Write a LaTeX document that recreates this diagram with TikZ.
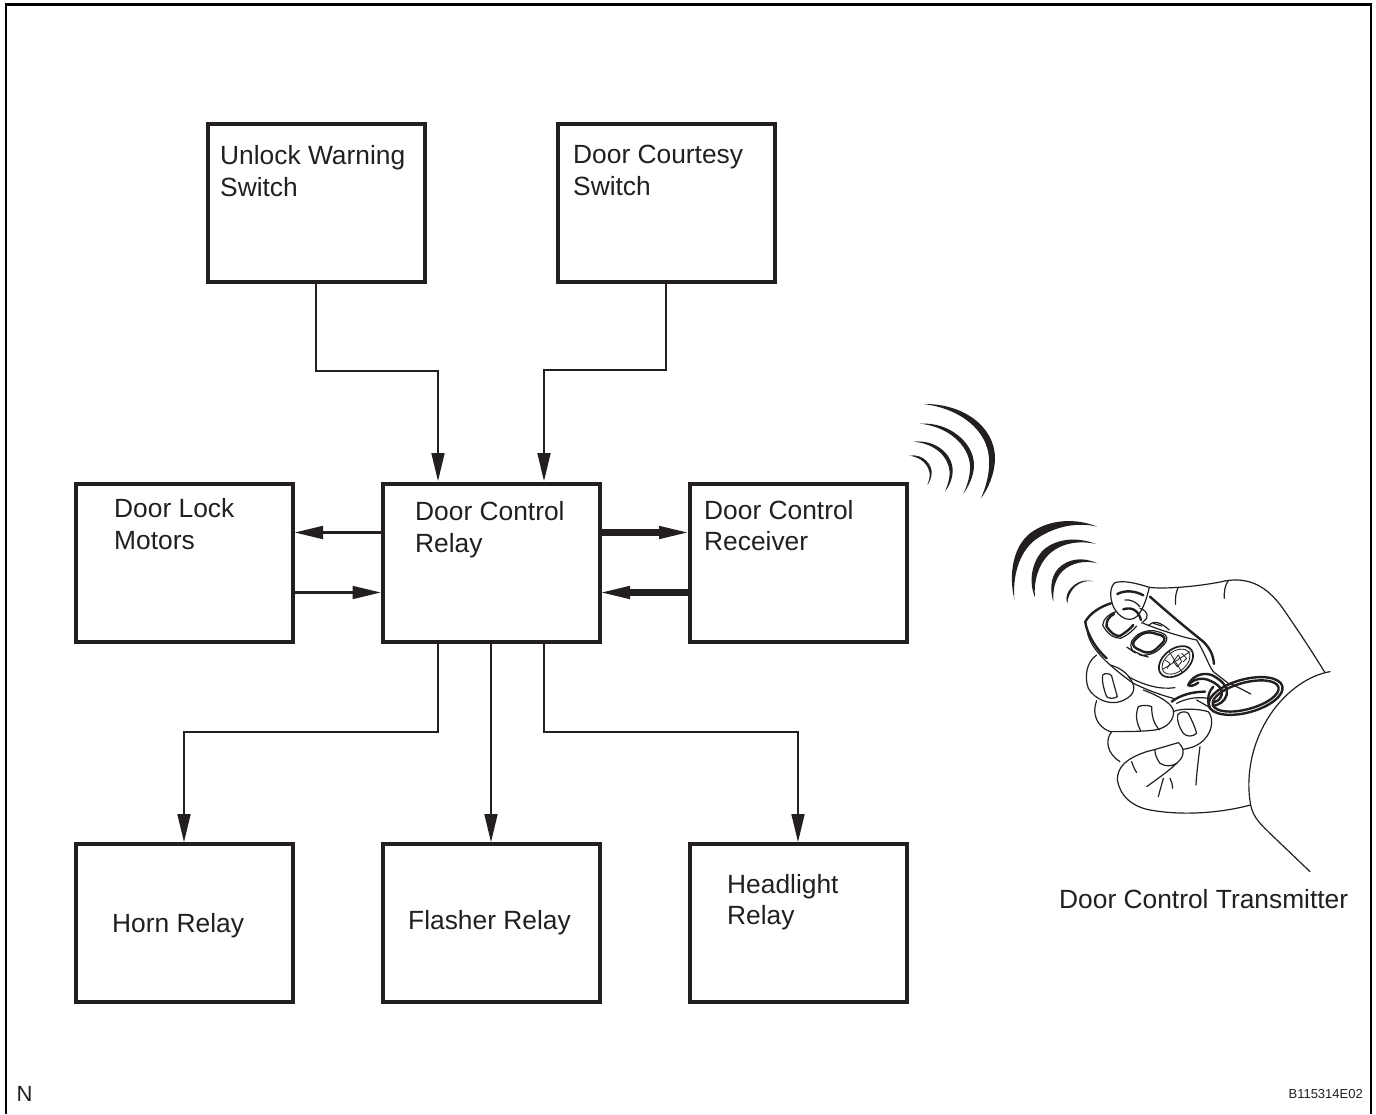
\documentclass[tikz,border=0pt]{standalone}
\usepackage{fontspec}
\setmainfont{Liberation Sans}
\usetikzlibrary{arrows.meta}
\definecolor{ink}{HTML}{231F20}
\tikzset{
 box/.style={draw=ink,line width=4pt,minimum width=217pt,minimum height=157.5pt,inner sep=0pt,outer sep=0pt,anchor=north west},
 lab/.style={anchor=north west,inner sep=0pt,align=left,text=ink,font=\fontsize{26.35}{31.5}\selectfont},
 labw/.style={anchor=north west,inner sep=0pt,align=left,text=ink,font=\fontsize{26.35}{32}\selectfont},
 tiphead/.style={-{Triangle[length=28pt,width=13.5pt,line width=0pt,fill=ink]}},
 conn/.style={draw=ink,line width=1.5pt,tiphead},
 connb/.style={draw=ink,line width=2.2pt,tiphead},
 heavy/.style={draw=ink,line width=7.4pt,tiphead},
 hand/.style={draw=ink,line width=1.2pt,fill=none,line cap=round,line join=round},
 handb/.style={draw=ink,line width=2.4pt,fill=none,line cap=round,line join=round},
 handm/.style={draw=ink,line width=1.7pt,fill=none,line cap=round,line join=round},
 handt/.style={draw=ink,line width=0.8pt,fill=none,line cap=round,line join=round},
 wave/.style={fill=ink,draw=none}
}
\begin{document}
\begin{tikzpicture}[x=1pt,y=-1pt]
\useasboundingbox (0,0) rectangle (1376,1114);
\fill[white] (0,0) rectangle (1376,1114);
\draw[black,line width=2.4pt] (6,1114) -- (6,4.5) -- (1371,4.5) -- (1371,1114);
% boxes
\node[box] (unlock) at (207.5,124) {};
\node[box] (courtesy) at (557.5,124) {};
\node[box] (motors) at (75.5,484) {};
\node[box] (relay) at (382.5,484) {};
\node[box] (receiver) at (689.5,484) {};
\node[box] (horn) at (75.5,844) {};
\node[box] (flasher) at (382.5,844) {};
\node[box] (headlight) at (689.5,844) {};
% labels
\node[lab] (t1) at (220,145.5) {Unlock Warning\\Switch};
\node[labw] (t2) at (573,145) {Door Courtesy\\Switch};
\node[labw] (t3) at (114,498) {Door Lock\\Motors};
\node[labw] (t4) at (415,501) {Door Control\\Relay};
\node[lab] (t5) at (704,500) {Door Control\\Receiver};
\node[lab] (t6) at (112,913) {Horn Relay};
\node[lab] (t7) at (408,910) {Flasher Relay};
\node[lab] (t8) at (727,874) {Headlight\\Relay};
\node[lab] (t9) at (1059,889) {Door Control Transmitter};
\node[anchor=base west,inner sep=0pt,text=ink,font=\fontsize{22}{24}\selectfont] (n) at (16.5,1101) {N};
\node[anchor=base east,inner sep=0pt,text=ink,font=\fontsize{13}{15}\selectfont] (code) at (1363,1098) {B115314E02};
% connectors
\coordinate (a1) at (438,481);
\coordinate (a2) at (544,481);
\draw[conn] (unlock.south -| 316,0) -- (316,371) -- (438,371) -- (a1);
\draw[conn] (courtesy.south -| 666,0) -- (666,370) -- (544,370) -- (a2);
\coordinate (m1) at (295,532.5);
\coordinate (r1) at (380.5,592.5);
\coordinate (h1) at (687,532.5);
\coordinate (h2) at (602,592.5);
\draw[connb] (relay.west |- m1) -- (m1);
\draw[connb] (motors.east |- r1) -- (r1);
\draw[heavy] (relay.east |- h1) -- (h1);
\draw[heavy] (receiver.west |- h2) -- (h2);
\coordinate (b1) at (184,842);
\coordinate (b2) at (491,842);
\coordinate (b3) at (798,842);
\draw[connb] (relay.south -| 438,0) -- (438,732) -- (184,732) -- (b1);
\draw[connb] (relay.south -| b2) -- (b2);
\draw[connb] (relay.south -| 544,0) -- (544,732) -- (798,732) -- (b3);
% drawing, in zoom coordinates
\begin{scope}[shift={(880,390)},x=0.3333pt,y=-0.3333pt]
% waves near receiver
\fill[wave] (130,42) .. controls (250,40) and (345,110) .. (345,205) .. controls (345,250) and (325,295) .. (303,325) .. controls (320,285) and (330,245) .. (327,205) .. controls (322,120) and (240,55) .. (130,42) -- cycle;
\fill[wave] (120,101) .. controls (210,95) and (282,160) .. (282,225) .. controls (282,258) and (265,290) .. (250,312) .. controls (262,285) and (272,255) .. (270,225) .. controls (265,165) and (205,110) .. (120,101) -- cycle;
\fill[wave] (100,155) .. controls (170,148) and (220,195) .. (218,245) .. controls (217,270) and (205,292) .. (195,305) .. controls (203,285) and (210,265) .. (209,245) .. controls (205,200) and (165,160) .. (100,155) -- cycle;
\fill[wave] (88,197) .. controls (130,190) and (157,225) .. (155,250) .. controls (154,265) and (148,278) .. (142,285) .. controls (147,272) and (150,260) .. (149,250) .. controls (145,225) and (125,202) .. (88,197) -- cycle;
% waves near transmitter
\fill[wave] (652,410) .. controls (590,385) and (510,385) .. (450,430) .. controls (400,470) and (385,550) .. (403,628) .. controls (398,560) and (415,490) .. (465,450) .. controls (520,410) and (590,395) .. (652,410) -- cycle;
\fill[wave] (648,462) .. controls (590,440) and (530,445) .. (490,480) .. controls (455,515) and (445,575) .. (465,622) .. controls (460,575) and (475,525) .. (505,495) .. controls (540,460) and (595,450) .. (648,462) -- cycle;
\fill[wave] (652,520) .. controls (610,500) and (565,505) .. (535,535) .. controls (510,562) and (510,605) .. (520,634) .. controls (518,600) and (525,565) .. (548,543) .. controls (575,518) and (615,510) .. (652,520) -- cycle;
\fill[wave] (640,574) .. controls (610,565) and (580,580) .. (565,605) .. controls (558,618) and (558,632) .. (562,640) .. controls (563,625) and (570,605) .. (585,590) .. controls (600,577) and (620,570) .. (640,574) -- cycle;
% hand outline
\draw[hand] (808,592) .. controls (850,598) and (960,590) .. (1040,572) .. controls (1110,562) and (1160,590) .. (1205,650) .. controls (1250,715) and (1300,790) .. (1335,848);
\draw[hand] (895,592) .. controls (888,605) and (885,625) .. (887,643);
\draw[hand] (1045,572) .. controls (1035,585) and (1032,605) .. (1033,625);
\draw[hand] (1350,845) .. controls (1290,855) and (1220,900) .. (1170,975) .. controls (1120,1050) and (1095,1150) .. (1112,1245) .. controls (1120,1285) and (1145,1305) .. (1175,1335) -- (1290,1445);
% thumb
\draw[hand] (808,592) .. controls (770,580) and (730,570) .. (705,578) .. controls (690,590) and (688,620) .. (700,650) .. controls (715,680) and (745,700) .. (770,680) .. controls (790,660) and (800,625) .. (808,592);
\draw[handb] (712,612) .. controls (735,600) and (765,602) .. (790,616);
\draw[hand] (735,630) .. controls (750,628) and (768,635) .. (780,650);
% fob body
\draw[handb] (693,640) .. controls (660,650) and (630,670) .. (616,695) .. controls (618,720) and (640,770) .. (680,805);
\draw[hand] (622,725) .. controls (630,770) and (670,815) .. (760,880) .. controls (790,895) and (840,915) .. (880,925);
\draw[hand] (745,860) .. controls (790,885) and (840,900) .. (885,893);
\draw[handb] (810,620) .. controls (860,665) and (920,715) .. (970,755) .. controls (990,775) and (1000,795) .. (1002,822);
\draw[hand] (790,700) .. controls (840,720) and (900,740) .. (950,750) .. controls (975,790) and (985,825) .. (1000,845);
\draw[hand] (805,708) .. controls (820,690) and (840,695) .. (868,720);
\draw[hand] (820,700) -- (845,708);
% buttons
\draw[handb] (702,672) .. controls (685,680) and (678,695) .. (680,710) .. controls (690,725) and (705,740) .. (720,738) .. controls (735,728) and (750,718) .. (760,705);
\draw[hand] (708,665) .. controls (690,670) and (670,685) .. (668,705) .. controls (680,730) and (700,745) .. (722,745) .. controls (745,735) and (760,720) .. (770,708);
\draw[handb] (730,658) .. controls (755,650) and (775,660) .. (783,690);
\draw[hand] (780,655) .. controls (795,660) and (805,670) .. (800,685) -- (785,700);
\draw[handb,rounded corners=8pt] (748,765) -- (795,722) -- (865,742) -- (810,795) -- cycle;
\draw[hand,rounded corners=12pt] (736,768) -- (795,714) -- (878,738) -- (812,803) -- (770,792) -- cycle;
% emblem
\draw[handm,rotate around={38:(888,815)}] (888,815) ellipse (58 and 38);
\draw[handt,rotate around={38:(888,815)}] (888,815) ellipse (48 and 30);
\draw[handt] (848,838) .. controls (870,825) and (885,815) .. (930,785);
\draw[handt] (868,785) .. controls (880,805) and (895,830) .. (905,845);
\draw[handt] (880,815) -- (895,795) -- (905,815) -- (892,830) -- cycle;
\draw[handt] (855,810) -- (870,820) -- (862,835);
\draw[handt] (905,790) -- (920,805) -- (910,815);
% ring tab and rings
\draw[handb] (925,885) .. controls (935,860) and (965,845) .. (995,855) .. controls (1025,870) and (1045,890) .. (1040,915) .. controls (1035,935) and (1015,945) .. (1000,948);
\draw[handb] (925,885) .. controls (935,872) and (960,860) .. (985,870) .. controls (1010,880) and (1030,895) .. (1025,915) .. controls (1020,930) and (1010,935) .. (1000,938);
\draw[handb] (925,885) .. controls (930,892) and (945,885) .. (955,878);
\draw[handb] (1000,890) .. controls (985,905) and (980,930) .. (990,955);
\draw[handb,rotate around={15:(1097,918)}] (1097,918) ellipse (114 and 50);
\draw[handb,rotate around={15:(1097,918)}] (1097,918) ellipse (102 and 40);
\draw[hand] (1050,880) .. controls (1070,890) and (1090,900) .. (1112,912);
\draw[handb] (875,935) .. controls (900,915) and (940,905) .. (975,905);
\draw[hand] (890,940) .. controls (920,925) and (950,920) .. (985,925);
\draw[hand] (950,930) -- (985,950);
\draw[hand] (1000,845) -- (1045,880);
% fingers
\draw[hand] (650,795) .. controls (620,815) and (612,860) .. (625,895) .. controls (645,930) and (690,945) .. (720,935) .. controls (750,925) and (770,905) .. (758,880) .. controls (750,860) and (730,835) .. (690,825);
\draw[hand] (668,855) .. controls (676,848) and (690,850) .. (695,858) .. controls (702,885) and (708,905) .. (712,920) .. controls (700,928) and (685,925) .. (680,920) .. controls (672,900) and (665,875) .. (668,855) -- cycle;
\draw[hand] (650,932) .. controls (635,970) and (650,1010) .. (690,1025) .. controls (730,1025) and (790,1025) .. (825,1020) .. controls (860,1015) and (885,990) .. (880,960) .. controls (875,945) and (855,925) .. (790,900);
\draw[hand] (775,950) .. controls (785,945) and (805,945) .. (815,950) .. controls (815,985) and (825,1005) .. (838,1020);
\draw[hand] (775,950) .. controls (765,975) and (770,1000) .. (782,1022);
\draw[hand] (880,965) .. controls (900,955) and (950,955) .. (985,965) .. controls (1005,990) and (995,1035) .. (960,1060) .. controls (945,1070) and (930,1075) .. (910,1078);
\draw[hand] (893,975) .. controls (900,965) and (915,962) .. (925,970) .. controls (935,990) and (945,1010) .. (950,1030) .. controls (940,1040) and (920,1042) .. (910,1030) .. controls (900,1015) and (890,995) .. (893,975) -- cycle;
\draw[hand] (695,1025) .. controls (675,1050) and (680,1090) .. (720,1115);
\draw[hand] (712,1170) .. controls (712,1130) and (740,1105) .. (800,1085) .. controls (840,1075) and (870,1065) .. (895,1058) .. controls (915,1075) and (915,1100) .. (890,1120) .. controls (875,1130) and (855,1130) .. (840,1120) .. controls (830,1105) and (825,1095) .. (825,1080);
\draw[hand] (890,1120) .. controls (870,1140) and (835,1165) .. (800,1190);
\draw[hand] (712,1170) .. controls (720,1215) and (750,1245) .. (800,1258) .. controls (880,1275) and (1000,1275) .. (1112,1245);
\draw[hand] (755,1115) .. controls (760,1130) and (765,1140) .. (770,1148);
\draw[hand] (850,1165) .. controls (845,1185) and (840,1200) .. (835,1220);
\draw[hand] (870,1165) .. controls (875,1175) and (878,1185) .. (878,1195);
\draw[hand] (960,1070) .. controls (955,1110) and (950,1150) .. (948,1185);
\end{scope}
\end{tikzpicture}
\end{document}
